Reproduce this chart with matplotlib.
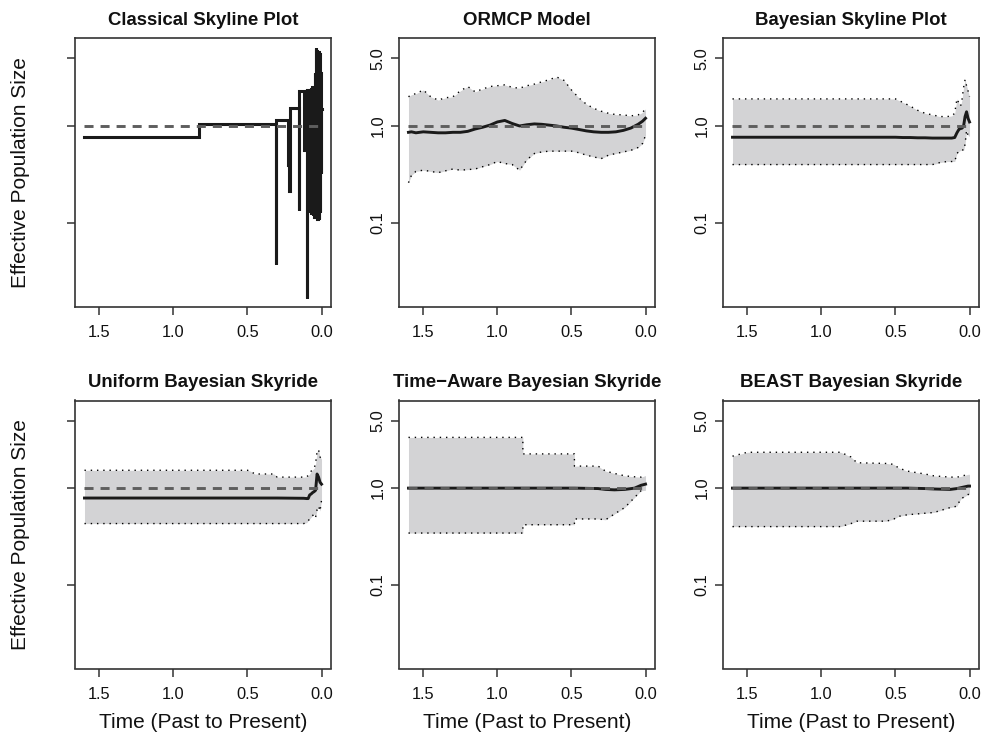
import matplotlib
matplotlib.use('Agg')
import matplotlib.pyplot as plt
from matplotlib.ticker import NullLocator

plt.rcParams['font.family'] = ['Liberation Sans', 'DejaVu Sans']

titles = ["Classical Skyline Plot", "ORMCP Model", "Bayesian Skyline Plot",
          "Uniform Bayesian Skyride", "Time\u2212Aware Bayesian Skyride", "BEAST Bayesian Skyride"]
y_label = "Effective Population Size"
x_label = "Time (Past to Present)"
x_ticks = [1.5, 1.0, 0.5, 0.0]
x_tick_labels = ["1.5", "1.0", "0.5", "0.0"]
y_ticks = [0.1, 1.0, 5.0]
y_tick_labels = ["0.1", "1.0", "5.0"]
true_size = 1.0

# Classical skyline (step function), times past -> present
csp_t = [1.60, 0.83, 0.31, 0.305, 0.228, 0.218, 0.213, 0.155, 0.150, 0.120, 0.112, 0.105,
         0.099, 0.095, 0.090, 0.087, 0.084, 0.081, 0.078, 0.075, 0.072, 0.069, 0.066, 0.063,
         0.060, 0.057, 0.054, 0.051, 0.048, 0.045, 0.042, 0.039, 0.036, 0.033, 0.030, 0.027,
         0.024, 0.021, 0.018, 0.015, 0.012, 0.009, 0.006, 0.003, 0.0]
csp_v = [0.77, 1.04, 0.038, 1.15, 0.40, 0.215, 1.52, 0.136, 2.29, 0.57, 2.2, 2.3, 0.017, 2.35,
         0.57, 2.3, 0.16, 2.4, 0.13, 2.2, 0.125, 2.4, 0.3, 2.5, 0.12, 2.35, 0.13, 2.6, 0.115,
         3.5, 0.12, 6.3, 0.115, 6.0, 0.11, 5.4, 0.2, 5.8, 0.11, 5.5, 0.13, 3.5, 0.33, 1.5]

# ORMCP
orm_t = [1.60, 1.58, 1.55, 1.50, 1.45, 1.40, 1.35, 1.30, 1.25, 1.20, 1.15, 1.10, 1.05, 1.00,
         0.95, 0.90, 0.85, 0.80, 0.75, 0.70, 0.65, 0.60, 0.55, 0.50, 0.45, 0.40, 0.35, 0.30,
         0.25, 0.20, 0.15, 0.10, 0.05, 0.02, 0.00]
orm_hi = [2.0, 2.1, 2.15, 2.35, 2.0, 1.85, 1.95, 2.0, 2.3, 2.55, 2.25, 2.4, 2.55, 2.6,
          2.65, 2.5, 2.45, 2.6, 2.7, 2.85, 3.0, 3.2, 2.95, 2.35, 1.95, 1.68, 1.52, 1.42,
          1.35, 1.31, 1.3, 1.27, 1.3, 1.38, 1.5]
orm_lo = [0.26, 0.31, 0.34, 0.35, 0.34, 0.33, 0.345, 0.36, 0.35, 0.355, 0.36, 0.38, 0.40, 0.43,
          0.41, 0.40, 0.35, 0.45, 0.52, 0.54, 0.55, 0.55, 0.55, 0.55, 0.53, 0.50, 0.48, 0.46,
          0.50, 0.52, 0.54, 0.56, 0.60, 0.66, 0.80]
orm_med = [0.86, 0.87, 0.85, 0.87, 0.86, 0.85, 0.85, 0.86, 0.86, 0.88, 0.93, 0.97, 1.02, 1.10,
           1.14, 1.06, 1.0, 1.03, 1.05, 1.04, 1.02, 1.0, 0.97, 0.95, 0.92, 0.89, 0.87, 0.86,
           0.86, 0.87, 0.90, 0.95, 1.04, 1.12, 1.2]

# Bayesian Skyline Plot
bsp_t = [1.60, 0.50, 0.45, 0.40, 0.35, 0.30, 0.25, 0.22, 0.20, 0.15, 0.12, 0.10, 0.085, 0.07,
         0.06, 0.05, 0.04, 0.03, 0.02, 0.01, 0.00]
bsp_hi = [1.9, 1.9, 1.75, 1.6, 1.45, 1.35, 1.3, 1.27, 1.25, 1.25, 1.27, 1.35, 1.9, 1.7,
          1.6, 1.9, 2.5, 3.0, 2.6, 2.3, 2.0]
bsp_lo = [0.40, 0.40, 0.40, 0.40, 0.40, 0.40, 0.40, 0.41, 0.42, 0.43, 0.43, 0.43, 0.52, 0.55,
          0.56, 0.57, 0.56, 0.65, 0.9, 0.8, 0.78]
bsp_med = [0.765, 0.765, 0.76, 0.76, 0.755, 0.755, 0.75, 0.75, 0.75, 0.75, 0.75, 0.76, 0.85, 0.93,
           0.94, 0.95, 1.0, 1.25, 1.4, 1.2, 1.1]

# Uniform Bayesian Skyride
ubs_t = [1.60, 0.50, 0.48, 0.45, 0.32, 0.30, 0.12, 0.10, 0.09, 0.08, 0.07, 0.06, 0.05, 0.04,
         0.03, 0.02, 0.01, 0.00]
ubs_hi = [1.53, 1.53, 1.50, 1.40, 1.40, 1.30, 1.30, 1.31, 1.35, 1.40, 1.50, 1.55, 1.6, 1.8,
          2.4, 2.5, 2.1, 2.0]
ubs_lo = [0.43, 0.43, 0.43, 0.43, 0.43, 0.43, 0.43, 0.44, 0.46, 0.48, 0.50, 0.52, 0.54, 0.50,
          0.60, 0.65, 0.58, 0.75]
ubs_med = [0.79, 0.79, 0.79, 0.79, 0.79, 0.79, 0.785, 0.78, 0.78, 0.85, 0.87, 0.9, 0.92, 0.95,
           1.4, 1.3, 1.15, 1.1]

# Time-Aware Bayesian Skyride
tas_t = [1.60, 0.828, 0.828, 0.48, 0.48, 0.32, 0.27, 0.21, 0.14, 0.074, 0.03, 0.00]
tas_hi = [3.35, 3.35, 2.26, 2.26, 1.69, 1.69, 1.5, 1.42, 1.34, 1.31, 1.3, 1.35]
tas_lo = [0.343, 0.343, 0.418, 0.418, 0.48, 0.48, 0.47, 0.54, 0.63, 0.80, 0.94, 0.95]
tas_med = [1.0, 1.0, 1.0, 1.0, 1.0, 0.99, 0.97, 0.96, 0.97, 1.0, 1.07, 1.1]

# BEAST Bayesian Skyride
bst_t = [1.60, 1.50, 0.87, 0.80, 0.76, 0.56, 0.51, 0.48, 0.42, 0.30, 0.24, 0.13, 0.085, 0.06,
         0.01, 0.00]
bst_hi = [2.14, 2.35, 2.35, 2.1, 1.83, 1.8, 1.76, 1.62, 1.5, 1.4, 1.34, 1.3, 1.3, 1.32, 1.39, 1.39]
bst_lo = [0.40, 0.40, 0.40, 0.43, 0.455, 0.455, 0.48, 0.51, 0.53, 0.55, 0.56, 0.63, 0.65, 0.77,
          0.86, 0.86]
bst_med = [1.0, 1.0, 1.0, 1.0, 1.0, 1.0, 1.0, 1.0, 1.0, 0.99, 0.98, 0.97, 0.99, 1.01, 1.05, 1.05]

bands = [None,
         (orm_t, orm_lo, orm_med, orm_hi),
         (bsp_t, bsp_lo, bsp_med, bsp_hi),
         (ubs_t, ubs_lo, ubs_med, ubs_hi),
         (tas_t, tas_lo, tas_med, tas_hi),
         (bst_t, bst_lo, bst_med, bst_hi)]

W, H = 985, 733
fig = plt.figure(figsize=(W / 100, H / 100), dpi=100)

col_left = [75, 399, 723]
col_w = 256
row_top = [38, 400.5]
row_h = [269, 268]

fill_col = '#d3d3d5'
axis_col = '#333333'

for i in range(6):
    r, c = divmod(i, 3)
    l = col_left[c]
    t = row_top[r]
    h = row_h[r]
    ax = fig.add_axes([l / W, 1 - (t + h) / H, col_w / W, h / H])
    ax.set_yscale('log')

    if i == 0:
        ax.plot(csp_t, csp_v + [csp_v[-1]], drawstyle='steps-post', color='#1a1a1a',
                lw=2.2, solid_joinstyle='miter', zorder=3)
        t0, t1 = max(csp_t), min(csp_t)
    else:
        tt, lo, med, hi = bands[i]
        ax.fill_between(tt, lo, hi, color=fill_col, lw=0, zorder=1)
        ax.plot(tt, lo, color='black', lw=1.0, linestyle=(0, (1, 3.5)), zorder=2)
        ax.plot(tt, hi, color='black', lw=1.0, linestyle=(0, (1, 3.5)), zorder=2)
        ax.plot(tt, med, color='#1a1a1a', lw=2.1, zorder=3)
        t0, t1 = max(tt), min(tt)

    ax.plot([t0, t1], [true_size, true_size], color='#5e5e5e', lw=2.1,
            linestyle=(0, (3.1, 2.4)), zorder=4)

    ax.set_xlim(1.664, -0.064)
    ax.set_ylim(0.0136, 8.07)
    ax.yaxis.set_minor_locator(NullLocator())
    ax.set_xticks(x_ticks)
    ax.set_xticklabels(x_tick_labels)
    ax.set_yticks(y_ticks)
    ax.set_yticklabels(y_tick_labels, rotation=90, va='center')
    ax.tick_params(axis='both', direction='out', length=5.8, width=1.1, color=axis_col,
                   labelsize=11.8, labelcolor='#111111')
    ax.tick_params(axis='x', pad=7.2)
    ax.tick_params(axis='y', pad=4.0)
    if c == 0:
        ax.tick_params(axis='y', labelleft=False)
    for sp in ax.spines.values():
        sp.set_color(axis_col)
        sp.set_linewidth(1.2)

    ax.set_title(titles[i], fontsize=13.4, fontweight='bold', pad=9.4, color='#111111')

    if c == 0:
        fig.text(21 / W, 1 - (t + h / 2) / H, y_label, rotation=90, ha='center', va='center',
                 fontsize=15, color='#111111')
    if r == 1:
        fig.text((l + col_w / 2) / W, 1 - 728 / H, x_label, ha='center', va='baseline',
                 fontsize=15, color='#111111')

fig.savefig('out.png', dpi=100)
